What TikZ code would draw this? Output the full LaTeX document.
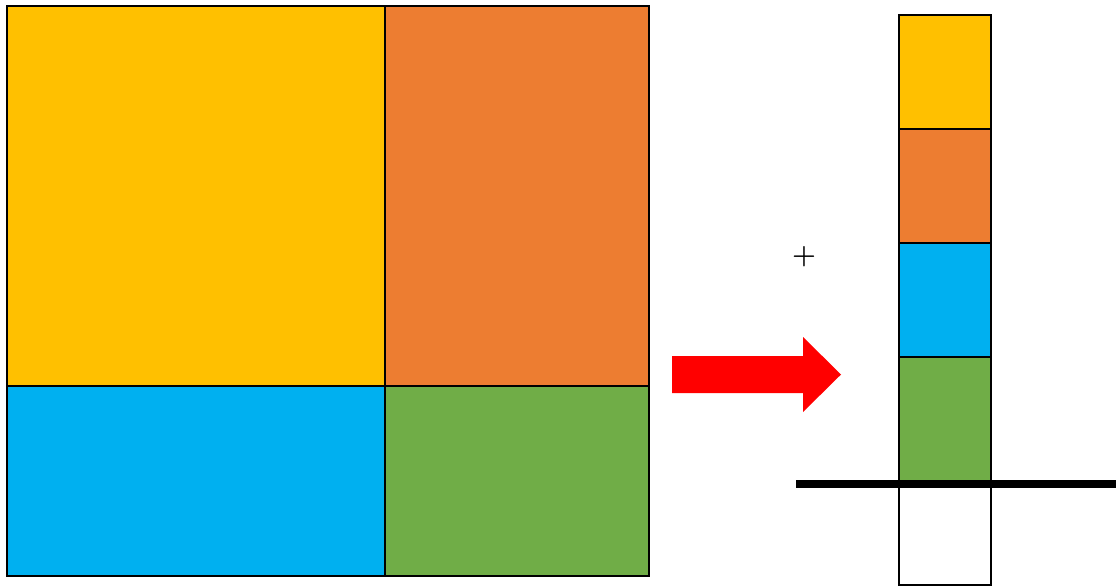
\documentclass[tikz,border=0pt]{standalone}
\usepackage{fontspec}
\usetikzlibrary{shapes.arrows}

\definecolor{cellyellow}{HTML}{FFC000}
\definecolor{cellorange}{HTML}{ED7D31}
\definecolor{cellblue}{HTML}{00B0F0}
\definecolor{cellgreen}{HTML}{70AD47}

\tikzset{
	cell/.style={draw=black, line width=1.5pt},
	bigarrow/.style={fill=red, draw=none},
	cutline/.style={line width=6pt, draw=black},
	plusmark/.style={font=\fontsize{20.5}{24}\selectfont\bfseries, inner sep=0pt}
}

\begin{document}
\begin{tikzpicture}[x=0.75pt, y=-0.75pt]
	\useasboundingbox (0,0) rectangle (1116,587);

	% left square, four parts
	\filldraw[cell, fill=cellyellow] (7,6) rectangle (385,386);
	\filldraw[cell, fill=cellorange] (385,6) rectangle (649,386);
	\filldraw[cell, fill=cellblue] (7,386) rectangle (385,576);
	\filldraw[cell, fill=cellgreen] (385,386) rectangle (649,576);

	% arrow
	\fill[bigarrow] (672,356) -- (803,356) -- (803,337) -- (841,374.5)
		-- (803,412) -- (803,393) -- (672,393) -- cycle;

	\node[plusmark] (plus) at (804,256.5) {+};

	% right column
	\foreach \col/\top/\bot in {cellyellow/15/129, cellorange/129/243, cellblue/243/357, cellgreen/357/484}{
		\filldraw[cell, fill=\col] (899,\top) rectangle (991,\bot);
	}
	\draw[cell] (899,484) rectangle (991,585);

	\coordinate (cutL) at (796,484);
	\coordinate (cutR) at (1116,484);
	\draw[cutline] (cutL) -- (cutR);

\end{tikzpicture}
\end{document}
